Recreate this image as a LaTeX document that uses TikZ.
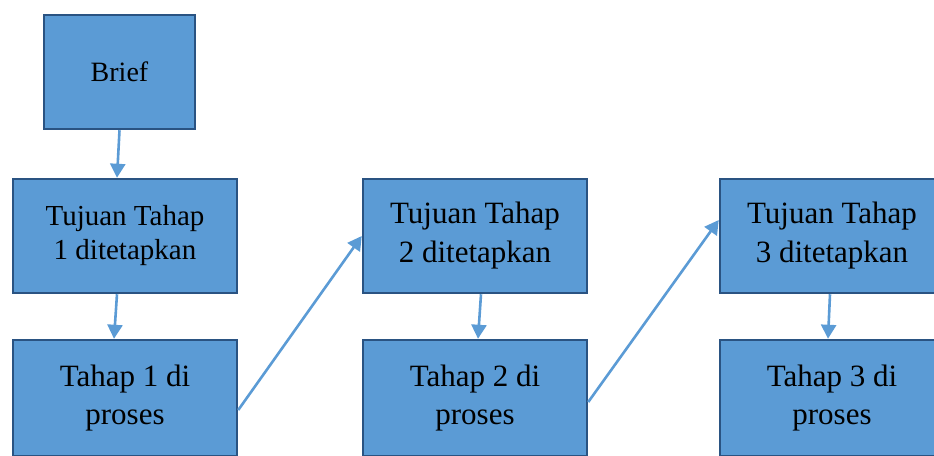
\documentclass[tikz,border=0pt]{standalone}
\usepackage{fontspec}
\setmainfont{Liberation Serif}
\usetikzlibrary{arrows.meta, positioning}
\definecolor{boxfill}{HTML}{5B9BD5}
\definecolor{boxline}{HTML}{2A5382}

\begin{document}
\begin{tikzpicture}[x=1pt,y=-1pt,line join=miter,
  stepbox/.style={draw=boxline, fill=boxfill, line width=2.5pt, align=center,
    inner sep=0pt, minimum width=224pt, minimum height=114pt},
  flow/.style={draw=boxfill, line width=2.6pt, -{Triangle[length=14pt,width=15pt]}}]

\useasboundingbox (0,0) rectangle (934,455);

% Boxes
\node[stepbox, minimum width=151pt, font=\fontsize{28}{32}\selectfont] (brief) at (119.5,72) {Brief};

\node[stepbox, font=\fontsize{29}{34}\selectfont] (tuj1) at (125,236) {Tujuan Tahap\\1 ditetapkan};
\node[stepbox, font=\fontsize{31}{39}\selectfont] (tuj2) at (475,236) {Tujuan Tahap\\2 ditetapkan};
\node[stepbox, font=\fontsize{31}{39}\selectfont] (tuj3) at (832,236) {Tujuan Tahap\\3 ditetapkan};

\node[stepbox, minimum height=116pt, font=\fontsize{31}{38}\selectfont] (tah1) at (125,398) {Tahap 1 di\\proses};
\node[stepbox, minimum height=116pt, font=\fontsize{31}{38}\selectfont] (tah2) at (475,398) {Tahap 2 di\\proses};
\node[stepbox, minimum height=116pt, font=\fontsize{31}{38}\selectfont] (tah3) at (832,398) {Tahap 3 di\\proses};

% Arrows
\draw[flow] (brief.south) -- ([xshift=-8pt]tuj1.north);
\draw[flow] ([xshift=-8pt]tuj1.south) -- ([xshift=-11pt]tah1.north);
\draw[flow] ([yshift=-12pt]tah1.east) -- (tuj2.west);
\draw[flow] ([xshift=6pt]tuj2.south) -- ([xshift=3pt]tah2.north);
\draw[flow] ([yshift=-4pt]tah2.east) -- ([yshift=16pt]tuj3.west);
\draw[flow] ([xshift=-2pt]tuj3.south) -- ([xshift=-4pt]tah3.north);

\end{tikzpicture}
\end{document}
